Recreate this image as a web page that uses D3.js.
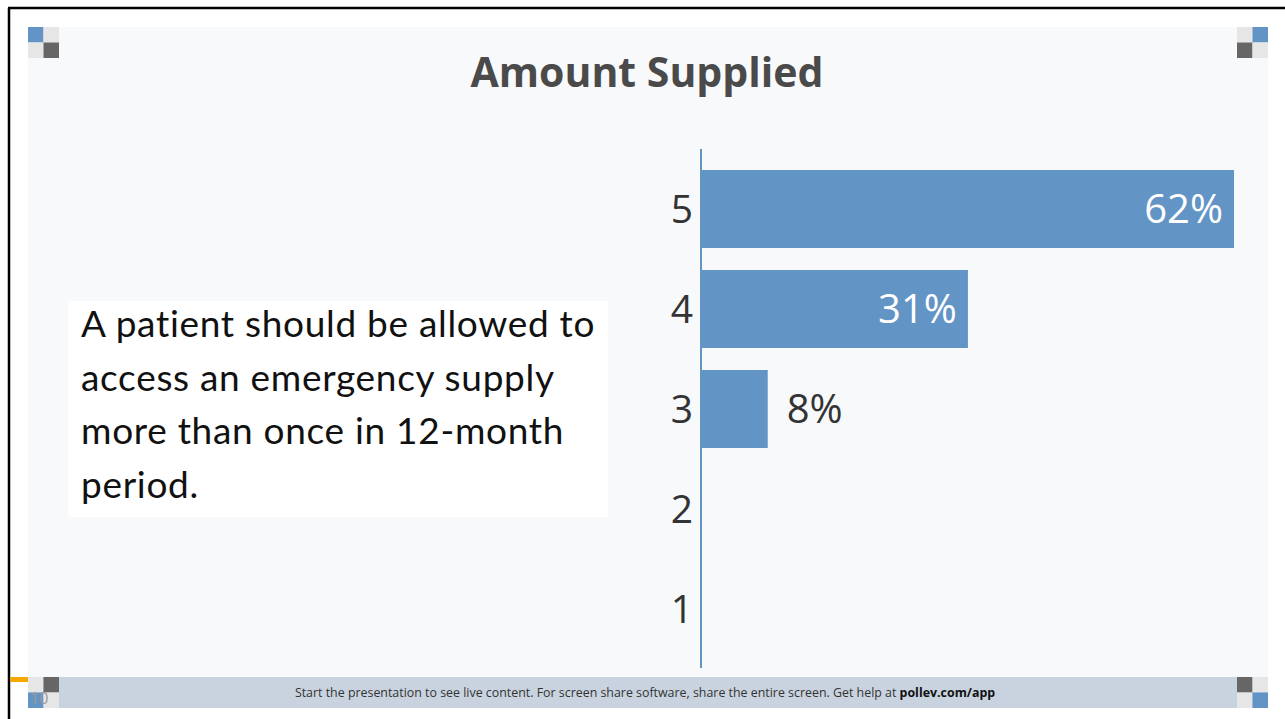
<!DOCTYPE html>
<html>
<head>
<meta charset="utf-8">
<script src="https://cdn.jsdelivr.net/npm/d3@7"></script>
<style>
  html, body { margin: 0; padding: 0; background: #fff; }
  svg { display: block; }
</style>
</head>
<body>
<svg id="chart" width="1285" height="719"></svg>
<script>
const title = "Amount Supplied";
const question = ["A patient should be allowed to", "access an emergency supply", "more than once in 12-month", "period."];
const categories = ["5", "4", "3", "2", "1"];
// share of responses (8, 4 and 1 out of 13)
const values = [61.5, 30.8, 7.7, 0, 0];
const labels = ["62%", "31%", "8%", "", ""];
const footer = "Start the presentation to see live content. For screen share software, share the entire screen. Get help at ";
const footerLink = "pollev.com/app";

const data = categories.map((c, i) => ({cat: c, value: values[i], label: labels[i]}));

const svg = d3.select("#chart");
const W = 1285, H = 719;
const panel = {left: 28, top: 27, right: 1268, bottom: 708};
const blue = "#6394c6";

// outer frame
svg.append("line").attr("x1", 9).attr("x2", 9).attr("y1", 8).attr("y2", H)
    .attr("stroke", "#000").attr("stroke-width", 2.5);
svg.append("line").attr("x1", 8).attr("x2", W).attr("y1", 8).attr("y2", 8)
    .attr("stroke", "#000").attr("stroke-width", 2.5);

// slide panel
svg.append("rect")
    .attr("x", panel.left).attr("y", panel.top)
    .attr("width", panel.right - panel.left).attr("height", panel.bottom - panel.top)
    .attr("fill", "#f8f9fb");

// footer bar
const footerTop = 677;
svg.append("rect")
    .attr("x", panel.left).attr("y", footerTop)
    .attr("width", panel.right - panel.left).attr("height", panel.bottom - footerTop)
    .attr("fill", "#c9d3df");

// corner squares
const sq = 15.5;
function corner(x, y, colors) {
  colors.forEach((c, i) => {
    svg.append("rect")
        .attr("x", x + (i % 2) * sq).attr("y", y + Math.floor(i / 2) * sq)
        .attr("width", sq).attr("height", sq).attr("fill", c);
  });
}
const lg = "#e6e6e6", dg = "#666666";
corner(panel.left, panel.top, [blue, lg, lg, dg]);
corner(panel.right - 2 * sq, panel.top, [lg, blue, dg, lg]);
corner(panel.left, footerTop, [lg, dg, blue, lg]);
corner(panel.right - 2 * sq, footerTop, [dg, lg, lg, blue]);

// orange marker + slide number
svg.append("rect").attr("x", 10).attr("y", 677).attr("width", 18).attr("height", 5)
    .attr("fill", "#f5a800");
svg.append("text").attr("x", 30).attr("y", 704)
    .attr("font-family", "Open Sans, sans-serif").attr("font-size", 16)
    .attr("fill", "#9a9a9a").text("10");

// footer text
const ft = svg.append("text")
    .attr("x", 645).attr("y", 697)
    .attr("text-anchor", "middle")
    .attr("font-family", "Open Sans, sans-serif").attr("font-size", 12.4)
    .attr("fill", "#333");
ft.append("tspan").text(footer);
ft.append("tspan").attr("font-weight", "bold").attr("fill", "#111").text(footerLink);

// title
svg.append("text")
    .attr("x", 647).attr("y", 87)
    .attr("text-anchor", "middle")
    .attr("font-family", "Open Sans, sans-serif").attr("font-weight", "bold")
    .attr("font-size", 41).attr("fill", "#4a4a4a")
    .text(title);

// question box
svg.append("rect").attr("x", 68).attr("y", 301).attr("width", 540).attr("height", 216)
    .attr("fill", "#fff");
svg.append("g").selectAll("text").data(question).join("text")
    .attr("x", 81).attr("y", (d, i) => 337 + i * 53.5)
    .attr("font-family", "Lato, sans-serif").attr("font-size", 37)
    .attr("letter-spacing", 0.7)
    .attr("fill", "#111")
    .text(d => d);

// bar chart
const x0 = 701;
const x = d3.scaleLinear().domain([0, d3.max(values)]).range([x0, 1234]);
const y = d3.scaleBand().domain(categories).range([159, 659])
    .paddingInner(0.22).paddingOuter(0.11);

const g = svg.append("g");
g.selectAll("rect.bar").data(data.filter(d => d.value > 0)).join("rect")
    .attr("class", "bar")
    .attr("x", x(0)).attr("y", d => y(d.cat))
    .attr("width", d => x(d.value) - x(0)).attr("height", y.bandwidth())
    .attr("fill", blue);

g.selectAll("text.val").data(data.filter(d => d.label)).join("text")
    .attr("class", "val")
    .attr("x", d => x(d.value) - x(0) > 120 ? x(d.value) - 11 : x(d.value) + 19)
    .attr("y", d => y(d.cat) + y.bandwidth() / 2)
    .attr("dy", "0.36em")
    .attr("text-anchor", d => x(d.value) - x(0) > 120 ? "end" : "start")
    .attr("font-family", "Open Sans, sans-serif").attr("font-size", 40)
    .attr("fill", d => x(d.value) - x(0) > 120 ? "#fff" : "#333")
    .text(d => d.label);

const axis = svg.append("g")
    .attr("transform", `translate(${x0},0)`)
    .call(d3.axisLeft(y).tickSize(0).tickPadding(8));
axis.select(".domain").remove();
axis.selectAll("text")
    .attr("font-family", "Open Sans, sans-serif").attr("font-size", 39)
    .attr("fill", "#333").attr("dy", "0.36em");

svg.append("line")
    .attr("x1", x0).attr("x2", x0)
    .attr("y1", y.range()[0] - 10).attr("y2", y.range()[1] + 9)
    .attr("stroke", blue).attr("stroke-width", 2);
</script>
</body>
</html>
